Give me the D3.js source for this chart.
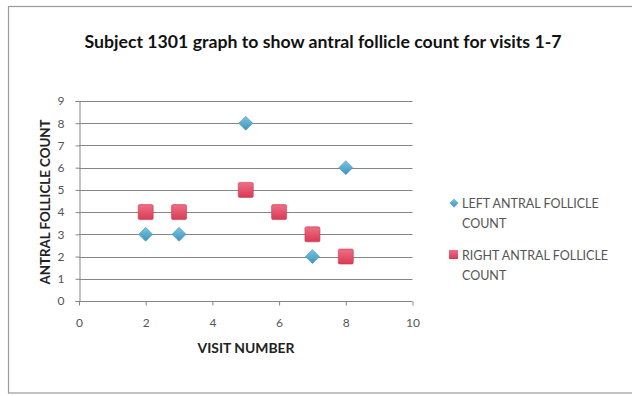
<!DOCTYPE html>
<html>
<head>
<meta charset="utf-8">
<script src="https://cdn.jsdelivr.net/npm/d3@7"></script>
<style>
  html, body { margin: 0; padding: 0; background: #fff; }
  svg { display: block; font-family: Lato, "Open Sans", sans-serif; }
</style>
</head>
<body>
<svg id="chart" width="632" height="396"></svg>
<script>
// Antral follicle counts per visit
const leftVisits = [2, 3, 5, 7, 8];
const leftCounts = [3, 3, 8, 2, 6];
const rightVisits = [2, 3, 5, 6, 7, 8];
const rightCounts = [4, 4, 5, 4, 3, 2];
const xTicks = [0, 2, 4, 6, 8, 10];
const yTicks = [0, 1, 2, 3, 4, 5, 6, 7, 8, 9];
const titleText = "Subject 1301 graph to show antral follicle count for visits 1-7";
const xTitle = "VISIT NUMBER";
const yTitle = "ANTRAL FOLLICLE COUNT";
const legendLabels = [["LEFT ANTRAL FOLLICLE", "COUNT"], ["RIGHT ANTRAL FOLLICLE", "COUNT"]];

const svg = d3.select("#chart");

// outer chart frame
svg.append("rect").attr("x", 8.5).attr("y", 6.5).attr("width", 640).attr("height", 386.5)
  .attr("fill", "#fff").attr("stroke", "#9a9a9a").attr("stroke-width", 1.2);

const defs = svg.append("defs");
const gDiamond = defs.append("linearGradient").attr("id", "gDia").attr("x1", 0).attr("y1", 0).attr("x2", 0).attr("y2", 1);
gDiamond.append("stop").attr("offset", "0%").attr("stop-color", "#7cc4df");
gDiamond.append("stop").attr("offset", "100%").attr("stop-color", "#3d94bd");
const gSquare = defs.append("linearGradient").attr("id", "gSq").attr("x1", 0).attr("y1", 0).attr("x2", 0).attr("y2", 1);
gSquare.append("stop").attr("offset", "0%").attr("stop-color", "#ee6f84");
gSquare.append("stop").attr("offset", "100%").attr("stop-color", "#d93a55");

const x = d3.scaleLinear().domain([0, 10]).range([79, 412.5]);
const y = d3.scaleLinear().domain([0, 9]).range([301, 101]);

// gridlines
svg.append("g").selectAll("line").data(yTicks.filter(d => d > 0)).join("line")
  .attr("x1", x(0)).attr("x2", x(10))
  .attr("y1", d => Math.round(y(d)) + 0.5).attr("y2", d => Math.round(y(d)) + 0.5)
  .attr("stroke", "#858585").attr("stroke-width", 1);

// axes
const yAxis = svg.append("g").attr("transform", `translate(${Math.round(x(0)) + 0.5},0)`)
  .call(d3.axisLeft(y).tickValues(yTicks).tickSize(4).tickPadding(11));
const xAxis = svg.append("g").attr("transform", `translate(0,${Math.round(y(0)) + 0.5})`)
  .call(d3.axisBottom(x).tickValues(xTicks).tickSize(4).tickPadding(13));
[yAxis, xAxis].forEach(a => {
  a.select(".domain").attr("stroke", "#858585");
  a.selectAll(".tick line").attr("stroke", "#858585");
  a.selectAll(".tick text").attr("fill", "#555").attr("font-size", 12).attr("font-family", "Lato, sans-serif");
});
xAxis.select(".domain").attr("d", `M${x(0)},0H${x(10)}`);

// diamond marker outline with equal width and height
const diamondPath = r => `M0,${-r}L${r},0L0,${r}L${-r},0Z`;

svg.append("g").selectAll("path").data(leftVisits.map((v, i) => [v, leftCounts[i]])).join("path")
  .attr("d", diamondPath(7))
  .attr("transform", d => `translate(${x(d[0])},${y(d[1])})`)
  .attr("fill", "url(#gDia)").attr("stroke", "#4a9bbf").attr("stroke-width", 0.6);

svg.append("g").selectAll("rect").data(rightVisits.map((v, i) => [v, rightCounts[i]])).join("rect")
  .attr("x", d => x(d[0]) - 7.5).attr("y", d => y(d[1]) - 7.5)
  .attr("width", 15).attr("height", 15).attr("rx", 1.5)
  .attr("fill", "url(#gSq)").attr("stroke", "#c9364f").attr("stroke-width", 0.6);

// titles
svg.append("text").attr("x", 323).attr("y", 48).attr("text-anchor", "middle")
  .attr("font-size", 16.5).attr("font-weight", "bold").attr("fill", "#111")
  .attr("textLength", 477).attr("lengthAdjust", "spacingAndGlyphs").text(titleText);
svg.append("text").attr("x", 246).attr("y", 353).attr("text-anchor", "middle")
  .attr("font-size", 12.5).attr("font-weight", "bold").attr("fill", "#222")
  .attr("textLength", 97).attr("lengthAdjust", "spacingAndGlyphs").text(xTitle);
svg.append("text").attr("transform", "translate(50,202) rotate(-90)").attr("text-anchor", "middle")
  .attr("font-size", 12.5).attr("font-weight", "bold").attr("fill", "#222")
  .attr("textLength", 165).attr("lengthAdjust", "spacingAndGlyphs").text(yTitle);

// legend
const leg = svg.append("g");
leg.append("path").attr("d", diamondPath(4.5))
  .attr("transform", "translate(454,203)").attr("fill", "url(#gDia)");
leg.append("rect").attr("x", 449).attr("y", 250).attr("width", 9).attr("height", 9)
  .attr("fill", "url(#gSq)");
legendLabels.forEach((lines, i) => {
  const t = leg.append("text").attr("x", 462).attr("y", 208 + i * 52)
    .attr("font-size", 12.5).attr("fill", "#555");
  lines.forEach((l, j) => t.append("tspan").attr("x", 462).attr("dy", j ? 20 : 0).text(l));
});
</script>
</body>
</html>
